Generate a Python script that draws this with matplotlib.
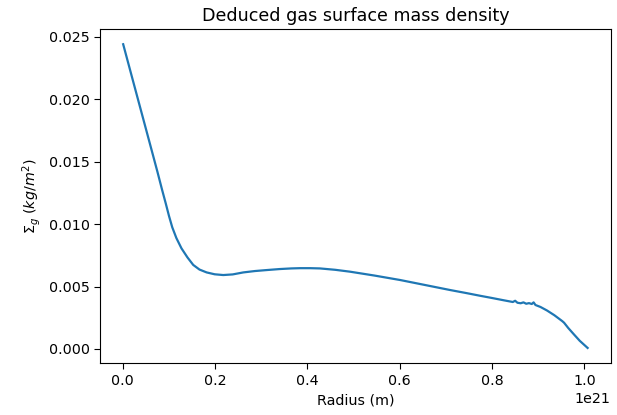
import matplotlib
matplotlib.use('Agg')
import matplotlib.pyplot as plt
import numpy as np

# radius in units of 1e21 m
radio = [0.0007, 0.020, 0.040, 0.060, 0.075, 0.085, 0.093, 0.100, 0.107,
         0.116, 0.127, 0.140, 0.1525, 0.166, 0.1815, 0.199, 0.2175, 0.238,
         0.261, 0.286, 0.312, 0.340, 0.365, 0.384, 0.406, 0.427, 0.460,
         0.492, 0.545, 0.601, 0.655, 0.709, 0.745, 0.774, 0.800, 0.825,
         0.845, 0.850, 0.855, 0.862, 0.868, 0.874, 0.880, 0.886, 0.890,
         0.894, 0.905, 0.919, 0.935, 0.952, 0.956, 0.965, 0.977, 0.990,
         1.007]
# gas surface mass density (kg/m^2)
sigma_g = [0.02441, 0.02175, 0.01900, 0.01625, 0.01418, 0.01275, 0.01165,
           0.01065, 0.00975, 0.00888, 0.00806, 0.00733, 0.00673, 0.00636,
           0.00613, 0.00598, 0.00592, 0.00597, 0.00613, 0.00624, 0.00632,
           0.00640, 0.00645, 0.00647, 0.00647, 0.00645, 0.00634, 0.00619,
           0.00588, 0.00552, 0.00512, 0.00472, 0.00447, 0.00426, 0.00408,
           0.00390, 0.00376, 0.00386, 0.00370, 0.00366, 0.00373, 0.00362,
           0.00367, 0.00360, 0.00373, 0.00352, 0.00336, 0.00308, 0.00270,
           0.00223, 0.00210, 0.00168, 0.00118, 0.00065, 0.00008]

fig = plt.figure(figsize=(6.17, 4.15), dpi=100)
ax = fig.add_axes([0.162, 0.125, 0.828, 0.805])

ax.plot(np.array(radio) * 1e21, sigma_g, color='#1f77b4', linewidth=1.6)

ax.set_title('Deduced gas surface mass density', fontsize=12.6)
ax.set_xlabel('Radius (m)', fontsize=10.3)
ax.set_ylabel(r'$\Sigma_g$ $(kg/m^2)$', fontsize=10.3)
ax.tick_params(labelsize=10.3, length=4)
ax.xaxis.get_offset_text().set_fontsize(10.3)

fig.savefig('out.png', dpi=100)
